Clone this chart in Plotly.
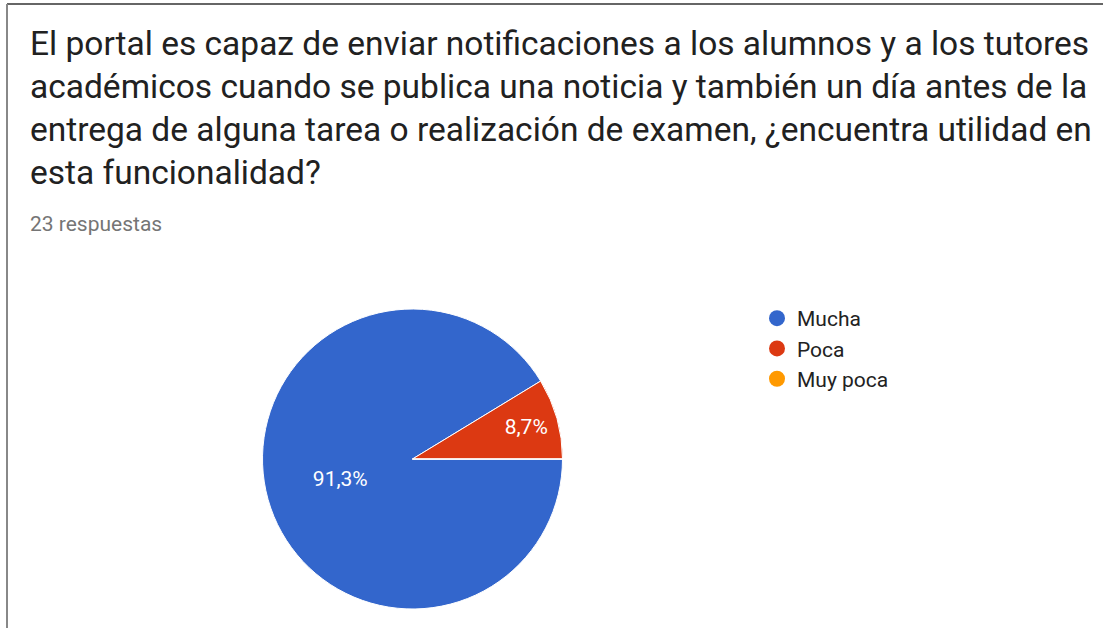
import plotly.graph_objects as go

# --- data ---
labels = ["Mucha", "Poca", "Muy poca"]
counts = [21, 2, 0]
colors = ["#3366cc", "#dc3912", "#ff9900"]

title_lines = [
    "El portal es capaz de enviar notificaciones a los alumnos y a los tutores",
    "académicos cuando se publica una noticia y también un día antes de la",
    "entrega de alguna tarea o realización de examen, ¿encuentra utilidad en",
    "esta funcionalidad?",
]
subtitle = "23 respuestas"

W, H = 1103, 628
FONT = "Roboto, Arial, sans-serif"

fig = go.Figure()

# pie, starts at 3 o'clock and runs clockwise like Google Forms
fig.add_trace(go.Pie(
    labels=labels,
    values=counts,
    marker=dict(colors=colors, line=dict(color="white", width=1)),
    sort=False,
    direction="clockwise",
    rotation=90,
    texttemplate="%{percent:.1%}",
    textposition="inside",
    insidetextfont=dict(color="white", size=21, family=FONT),
    showlegend=False,
    hoverinfo="label+percent",
    domain=dict(x=[262 / W, 563 / W], y=[19 / H, 319 / H]),
))

# round legend markers via empty scatter traces
for lab, col in zip(labels, colors):
    fig.add_trace(go.Scatter(
        x=[None], y=[None], mode="markers", name=lab,
        marker=dict(symbol="circle", size=20, color=col),
    ))

# title block as annotations
for i, line in enumerate(title_lines):
    fig.add_annotation(
        text=line, xref="paper", yref="paper",
        x=28 / W, y=1 - (44 + i * 42.7) / H,
        xanchor="left", yanchor="middle", showarrow=False,
        font=dict(size=33.5, color="#212121", family=FONT),
    )
fig.add_annotation(
    text=subtitle, xref="paper", yref="paper",
    x=28 / W, y=1 - 224 / H, xanchor="left", yanchor="middle",
    showarrow=False, font=dict(size=21, color="#757575", family=FONT),
)

# frame lines of the screenshot
fig.add_shape(type="line", xref="paper", yref="paper",
              x0=7 / W, x1=1, y0=1 - 4 / H, y1=1 - 4 / H,
              line=dict(color="#333333", width=1.5))
fig.add_shape(type="line", xref="paper", yref="paper",
              x0=7 / W, x1=7 / W, y0=0, y1=1 - 4 / H,
              line=dict(color="#888888", width=2))

fig.update_layout(
    width=W, height=H,
    margin=dict(l=0, r=0, t=0, b=0),
    paper_bgcolor="white", plot_bgcolor="white",
    separators=",.",
    xaxis=dict(visible=False), yaxis=dict(visible=False),
    legend=dict(
        x=757 / W, y=1 - 298 / H, xanchor="left", yanchor="top",
        font=dict(size=21, color="#222222", family=FONT),
        itemsizing="trace", tracegroupgap=0, bgcolor="rgba(0,0,0,0)",
    ),
    font=dict(family=FONT),
)

fig.write_html("out.html", config={"displayModeBar": False},
               post_script="document.body.style.margin='0';")
